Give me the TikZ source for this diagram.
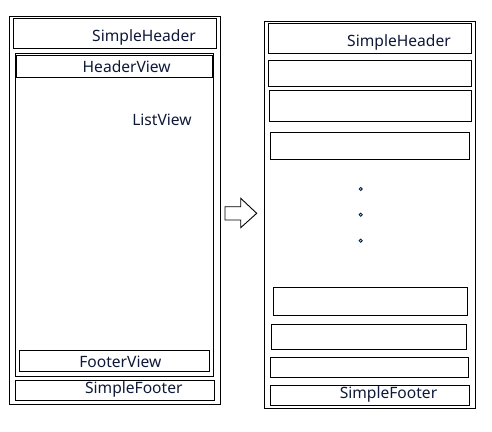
\documentclass[tikz,border=0pt]{standalone}
\usepackage{fontspec}
\setmainfont{Noto Sans}
\definecolor{txtcol}{HTML}{0E1838}
\begin{document}
\begin{tikzpicture}[x=1pt,y=-1pt,
  box/.style={draw=black, line width=1pt, inner sep=0pt, outer sep=0pt, anchor=north west},
  lbl/.style={text=txtcol, font=\fontsize{15.6}{18}\selectfont, inner sep=0pt, anchor=center},
  dot/.style={circle, draw=txtcol, fill=cyan!35, line width=0.8pt, minimum size=3.2pt, inner sep=0pt}]
\useasboundingbox (0,0) rectangle (492,431);
% left
\node[box, minimum width=211pt, minimum height=388pt] (outL) at (9.5,16) {};
\node[box, minimum width=203.4pt, minimum height=30pt] (shL) at (13.3,18.3) {};
\node[box, minimum width=198.7pt, minimum height=322.7pt] (listL) at (15,53.3) {};
\node[box, minimum width=196pt, minimum height=22pt] (hvL) at (16,55.3) {};
\node[box, minimum width=190pt, minimum height=20.6pt] (fvL) at (19.3,350.7) {};
\node[box, minimum width=199pt, minimum height=19.7pt] (sfL) at (15.3,380.3) {};
\node[lbl] (tshL) at (144,37.3) {SimpleHeader};
\node[lbl] (thvL) at (126.7,66.5) {HeaderView};
\node[lbl] (tlv) at (162,119.5) {ListView};
\node[lbl] (tfvL) at (120.3,361.5) {FooterView};
\node[lbl] (tsfL) at (133.8,389) {SimpleFooter};
% arrow
\draw[line width=0.9pt] (225,206.7) -- (240.7,206.7) -- (240.7,198.3) -- (256.7,213.3)
  -- (240.7,227.7) -- (240.7,220) -- (225,220) -- cycle;
% right
\node[box, minimum width=211.4pt, minimum height=387.4pt] (outR) at (264.3,21.3) {};
\node[box, minimum width=203pt, minimum height=29.7pt] (r1) at (268.3,23.3) {};
\node[box, minimum width=203pt, minimum height=26pt] (r2) at (268.3,60.3) {};
\node[box, minimum width=202pt, minimum height=31pt] (r3) at (269.3,90.3) {};
\node[box, minimum width=199.4pt, minimum height=27pt] (r4) at (270.3,132.3) {};
\node[box, minimum width=194.4pt, minimum height=28.3pt] (r5) at (273.3,287) {};
\node[box, minimum width=195.4pt, minimum height=25pt] (r6) at (271.3,324.3) {};
\node[box, minimum width=198.4pt, minimum height=20pt] (r7) at (270.3,357.3) {};
\node[box, minimum width=199.4pt, minimum height=20pt] (r8) at (270.3,385.3) {};
\node[lbl] (tr1) at (399,42) {SimpleHeader};
\node[lbl] (tr8) at (388.5,394) {SimpleFooter};
\node[dot] (d1) at (360.7,189) {};
\node[dot] (d2) at (360.7,214.7) {};
\node[dot] (d3) at (360.7,240.7) {};
\end{tikzpicture}
\end{document}
